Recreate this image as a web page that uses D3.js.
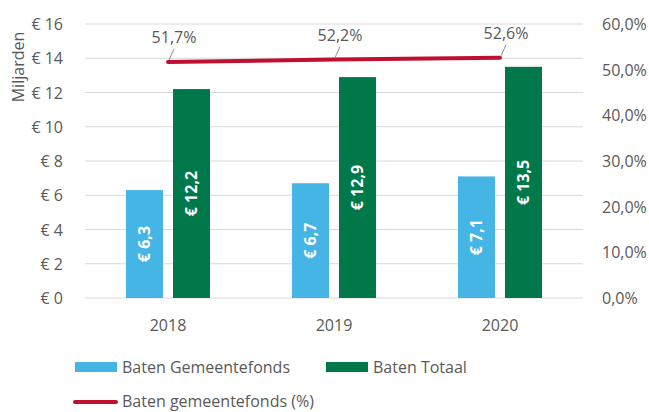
<!DOCTYPE html>
<html>
<head>
<meta charset="utf-8">
<script src="https://cdn.jsdelivr.net/npm/d3@7"></script>
<style>
  body { margin: 0; background: #fff; }
  svg text { font-family: "Open Sans", "Noto Sans", sans-serif; fill: #595959; }
</style>
</head>
<body>
<div class="chart-container"></div>
<script>
// data
var years = ["2018", "2019", "2020"];
var gemeentefonds = [6.3, 6.7, 7.1];
var totaal = [12.2, 12.9, 13.5];
var aandeel = [51.7, 52.2, 52.6];
var leftTicks = [0, 2, 4, 6, 8, 10, 12, 14, 16];
var rightTicks = [0, 10, 20, 30, 40, 50, 60];

var width = 649, height = 412;
var margin = {left: 85, right: 66, top: 24, bottom: 114};

var svg = d3.select(".chart-container")
    .append("svg")
    .attr("width", width)
    .attr("height", height);

var x = d3.scaleBand()
    .domain(years)
    .range([margin.left, width - margin.right]);

var y = d3.scaleLinear()
    .domain([0, 16])
    .range([height - margin.bottom, margin.top]);

var y2 = d3.scaleLinear()
    .domain([0, 60])
    .range([height - margin.bottom, margin.top]);

var barW = 37, gap = 10;
var fmt = function(v) { return "€ " + String(v).replace(".", ","); };

// gridlines
svg.append("g")
    .selectAll("line")
    .data(leftTicks)
    .enter().append("line")
    .attr("x1", margin.left)
    .attr("x2", width - margin.right)
    .attr("y1", function(d) { return y(d); })
    .attr("y2", function(d) { return y(d); })
    .style("stroke", "#d9d9d9")
    .style("stroke-width", 1);

// left axis
var leftAxis = svg.append("g")
    .attr("transform", "translate(" + (margin.left - 19) + ",0)")
    .call(d3.axisLeft(y).tickValues(leftTicks).tickSize(0).tickFormat(function(d) { return "€ " + d; }));
leftAxis.select(".domain").remove();
leftAxis.selectAll("text").style("font-size", "16px").attr("fill", "#595959").attr("dy", "0.35em");

// right axis
var rightAxis = svg.append("g")
    .attr("transform", "translate(" + (width - margin.right + 16) + ",0)")
    .call(d3.axisRight(y2).tickValues(rightTicks).tickSize(0).tickFormat(function(d) { return d.toFixed(1).replace(".", ",") + "%"; }));
rightAxis.select(".domain").remove();
rightAxis.selectAll("text").style("font-size", "16px").attr("fill", "#595959").attr("dy", "0.35em");

// y title
svg.append("text")
    .attr("transform", "translate(18,67) rotate(-90)")
    .attr("text-anchor", "middle")
    .attr("dy", "0.35em")
    .style("font-size", "16px")
    .text("Miljarden");

// x labels
svg.append("g")
    .selectAll("text")
    .data(years)
    .enter().append("text")
    .attr("x", function(d) { return x(d) + x.bandwidth() / 2; })
    .attr("y", height - margin.bottom + 33)
    .attr("text-anchor", "middle")
    .style("font-size", "16px")
    .text(function(d) { return d; });

// bars
var series = [
    {name: "Baten Gemeentefonds", values: gemeentefonds, color: "#44b5e5", off: -gap / 2 - barW},
    {name: "Baten Totaal", values: totaal, color: "#00784a", off: gap / 2}
];

series.forEach(function(s) {
    var g = svg.append("g");
    g.selectAll("rect")
        .data(years)
        .enter().append("rect")
        .attr("x", function(d) { return x(d) + x.bandwidth() / 2 + s.off; })
        .attr("y", function(d, i) { return y(s.values[i]); })
        .attr("width", barW)
        .attr("height", function(d, i) { return y(0) - y(s.values[i]); })
        .style("fill", s.color);
    g.selectAll("text")
        .data(years)
        .enter().append("text")
        .attr("transform", function(d, i) {
            var cx = x(d) + x.bandwidth() / 2 + s.off + barW / 2;
            var cy = (y(s.values[i]) + y(0)) / 2;
            return "translate(" + cx + "," + cy + ") rotate(-90)";
        })
        .attr("text-anchor", "middle")
        .attr("dy", "0.35em")
        .style("font-size", "16px")
        .style("font-weight", "bold")
        .style("fill", "#fff")
        .text(function(d, i) { return fmt(s.values[i]); });
});

// line
var line = d3.line()
    .x(function(d, i) { return x(years[i]) + x.bandwidth() / 2; })
    .y(function(d) { return y2(d); });

svg.append("path")
    .datum(aandeel)
    .attr("d", line)
    .style("fill", "none")
    .style("stroke", "#c0102f")
    .style("stroke-width", 4)
    .style("stroke-linecap", "round");

// line labels with leader lines
var lbl = svg.append("g");
aandeel.forEach(function(v, i) {
    var px = x(years[i]) + x.bandwidth() / 2;
    var py = y2(v);
    lbl.append("line")
        .attr("x1", px + 1).attr("y1", py - 2)
        .attr("x2", px + 6).attr("y2", py - 13)
        .style("stroke", "#8c8c8c")
        .style("stroke-width", 1);
    lbl.append("text")
        .attr("x", px + 6)
        .attr("y", py - 19)
        .attr("text-anchor", "middle")
        .style("font-size", "16px")
        .text(v.toFixed(1).replace(".", ",") + "%");
});

// legend
var lg = svg.append("g");
lg.append("rect").attr("x", 75).attr("y", 362).attr("width", 42).attr("height", 10).style("fill", series[0].color);
lg.append("text").attr("x", 122).attr("y", 373).style("font-size", "16px").text(series[0].name);
lg.append("rect").attr("x", 326).attr("y", 362).attr("width", 42).attr("height", 10).style("fill", series[1].color);
lg.append("text").attr("x", 373).attr("y", 373).style("font-size", "16px").text(series[1].name);
lg.append("line").attr("x1", 75).attr("x2", 116).attr("y1", 402).attr("y2", 402)
    .style("stroke", "#c0102f").style("stroke-width", 4).style("stroke-linecap", "round");
lg.append("text").attr("x", 122).attr("y", 407).style("font-size", "16px").text("Baten gemeentefonds (%)");
</script>
</body>
</html>
